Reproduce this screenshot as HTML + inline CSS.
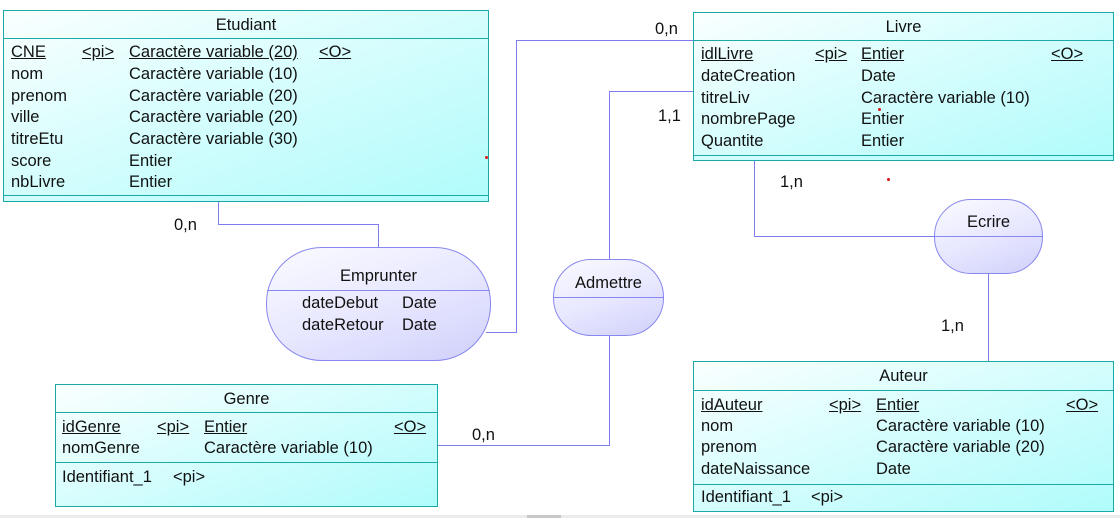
<!DOCTYPE html>
<html><head><meta charset="utf-8"><style>
body{margin:0;width:1120px;height:518px;background:#fff;position:relative;overflow:hidden;font-family:"Liberation Sans",sans-serif;font-size:16.5px;color:#111}
.e{position:absolute;border:1.5px solid #1aa8a8;box-sizing:border-box;background:linear-gradient(160deg,#fafffff0 0%,#d8fdfd 45%,#b0fcfc 100%)}
.h{position:absolute;left:0;right:0;border-top:1.5px solid #1aa8a8}
.t{position:absolute;white-space:nowrap;line-height:18px}
.u{text-decoration:underline}
.a{position:absolute;border:1.3px solid #8888ee;box-sizing:border-box;background:linear-gradient(160deg,#fbfbff 0%,#e6e6ff 55%,#d0d0fb 100%)}
.l{position:absolute;background:#7c7cf0}
.r{position:absolute;width:3px;height:3px;background:#e01010;border-radius:50%}
</style></head><body>
<!-- connectors -->
<div class="l" style="left:218px;top:201px;width:1px;height:23px"></div>
<div class="l" style="left:218px;top:224px;width:161px;height:1px"></div>
<div class="l" style="left:378px;top:224px;width:1px;height:23px"></div>
<div class="l" style="left:486px;top:332px;width:31px;height:1px"></div>
<div class="l" style="left:516px;top:40px;width:1px;height:293px"></div>
<div class="l" style="left:516px;top:40px;width:177px;height:1px"></div>
<div class="l" style="left:609px;top:91px;width:1px;height:168px"></div>
<div class="l" style="left:609px;top:91px;width:84px;height:1px"></div>
<div class="l" style="left:609px;top:335px;width:1px;height:110px"></div>
<div class="l" style="left:437px;top:445px;width:173px;height:1px"></div>
<div class="l" style="left:754px;top:160px;width:1px;height:76px"></div>
<div class="l" style="left:754px;top:236px;width:180px;height:1px"></div>
<div class="l" style="left:988px;top:273px;width:1px;height:88px"></div>
<div class="t" style="left:174px;top:216px">0,n</div>
<div class="t" style="left:655px;top:20px">0,n</div>
<div class="t" style="left:658px;top:107px">1,1</div>
<div class="t" style="left:472px;top:426px">0,n</div>
<div class="t" style="left:780px;top:173px">1,n</div>
<div class="t" style="left:941px;top:317px">1,n</div>

<!-- Etudiant -->
<div class="e" style="left:3px;top:10px;width:486px;height:192px">
<div class="t" style="left:0;right:0;text-align:center;top:5px">Etudiant</div>
<div class="h" style="top:27px"></div>
<div class="h" style="top:184px"></div>
</div>
<div class="t u" style="left:11px;top:43px">CNE</div><div class="t u" style="left:82px;top:43px">&lt;pi&gt;</div><div class="t u" style="left:129px;top:43px">Caractère variable (20)</div><div class="t u" style="left:319px;top:43px">&lt;O&gt;</div>
<div class="t" style="left:11px;top:65px">nom</div><div class="t" style="left:129px;top:65px">Caractère variable (10)</div>
<div class="t" style="left:11px;top:87px">prenom</div><div class="t" style="left:129px;top:87px">Caractère variable (20)</div>
<div class="t" style="left:11px;top:108px">ville</div><div class="t" style="left:129px;top:108px">Caractère variable (20)</div>
<div class="t" style="left:11px;top:130px">titreEtu</div><div class="t" style="left:129px;top:130px">Caractère variable (30)</div>
<div class="t" style="left:11px;top:152px">score</div><div class="t" style="left:129px;top:152px">Entier</div>
<div class="t" style="left:11px;top:173px">nbLivre</div><div class="t" style="left:129px;top:173px">Entier</div>

<!-- Livre -->
<div class="e" style="left:693px;top:12px;width:421px;height:149px">
<div class="t" style="left:0;right:0;text-align:center;top:5px">Livre</div>
<div class="h" style="top:27px"></div>
<div class="h" style="top:142px"></div>
</div>
<div class="t u" style="left:701px;top:45px">idlLivre</div><div class="t u" style="left:815px;top:45px">&lt;pi&gt;</div><div class="t u" style="left:861px;top:45px">Entier</div><div class="t u" style="left:1051px;top:45px">&lt;O&gt;</div>
<div class="t" style="left:701px;top:67px">dateCreation</div><div class="t" style="left:861px;top:67px">Date</div>
<div class="t" style="left:701px;top:89px">titreLiv</div><div class="t" style="left:861px;top:89px">Caractère variable (10)</div>
<div class="t" style="left:701px;top:110px">nombrePage</div><div class="t" style="left:861px;top:110px">Entier</div>
<div class="t" style="left:701px;top:132px">Quantite</div><div class="t" style="left:861px;top:132px">Entier</div>

<!-- Emprunter -->
<div class="a" style="left:266px;top:247px;width:225px;height:114px;border-radius:56px/56px">
<div class="h" style="top:42px;border-color:#8888ee"></div>
<div class="t" style="left:0;right:0;text-align:center;top:19px">Emprunter</div>
</div>
<div class="t" style="left:302px;top:294px">dateDebut</div><div class="t" style="left:402px;top:294px">Date</div>
<div class="t" style="left:302px;top:316px">dateRetour</div><div class="t" style="left:402px;top:316px">Date</div>

<!-- Admettre -->
<div class="a" style="left:553px;top:259px;width:111px;height:77px;border-radius:38px/38px">
<div class="h" style="top:37px;border-color:#8888ee"></div>
<div class="t" style="left:0;right:0;text-align:center;top:14px">Admettre</div>
</div>

<!-- Ecrire -->
<div class="a" style="left:934px;top:199px;width:109px;height:75px;border-radius:37px/37px">
<div class="h" style="top:36px;border-color:#8888ee"></div>
<div class="t" style="left:0;right:0;text-align:center;top:13px">Ecrire</div>
</div>

<!-- Genre -->
<div class="e" style="left:55px;top:384px;width:383px;height:123px">
<div class="t" style="left:0;right:0;text-align:center;top:5px">Genre</div>
<div class="h" style="top:27px"></div>
<div class="h" style="top:77px"></div>
</div>
<div class="t u" style="left:62px;top:418px">idGenre</div><div class="t u" style="left:157px;top:418px">&lt;pi&gt;</div><div class="t u" style="left:204px;top:418px">Entier</div><div class="t u" style="left:394px;top:418px">&lt;O&gt;</div>
<div class="t" style="left:62px;top:439px">nomGenre</div><div class="t" style="left:204px;top:439px">Caractère variable (10)</div>
<div class="t" style="left:62px;top:468px">Identifiant_1</div><div class="t" style="left:173px;top:468px">&lt;pi&gt;</div>

<!-- Auteur -->
<div class="e" style="left:693px;top:361px;width:421px;height:151px">
<div class="t" style="left:0;right:0;text-align:center;top:5px">Auteur</div>
<div class="h" style="top:28px"></div>
<div class="h" style="top:122px"></div>
</div>
<div class="t u" style="left:701px;top:396px">idAuteur</div><div class="t u" style="left:829px;top:396px">&lt;pi&gt;</div><div class="t u" style="left:876px;top:396px">Entier</div><div class="t u" style="left:1066px;top:396px">&lt;O&gt;</div>
<div class="t" style="left:701px;top:417px">nom</div><div class="t" style="left:876px;top:417px">Caractère variable (10)</div>
<div class="t" style="left:701px;top:438px">prenom</div><div class="t" style="left:876px;top:438px">Caractère variable (20)</div>
<div class="t" style="left:701px;top:460px">dateNaissance</div><div class="t" style="left:876px;top:460px">Date</div>
<div class="t" style="left:701px;top:488px">Identifiant_1</div><div class="t" style="left:811px;top:488px">&lt;pi&gt;</div>

<div class="r" style="left:485px;top:156px"></div>
<div class="r" style="left:878px;top:108px"></div>
<div class="r" style="left:887px;top:178px"></div>
<div style="position:absolute;left:0;top:515px;width:1120px;height:3px;background:#ececec"></div>
<div style="position:absolute;left:527px;top:515px;width:34px;height:3px;background:#c8c8c8"></div>
</body></html>
